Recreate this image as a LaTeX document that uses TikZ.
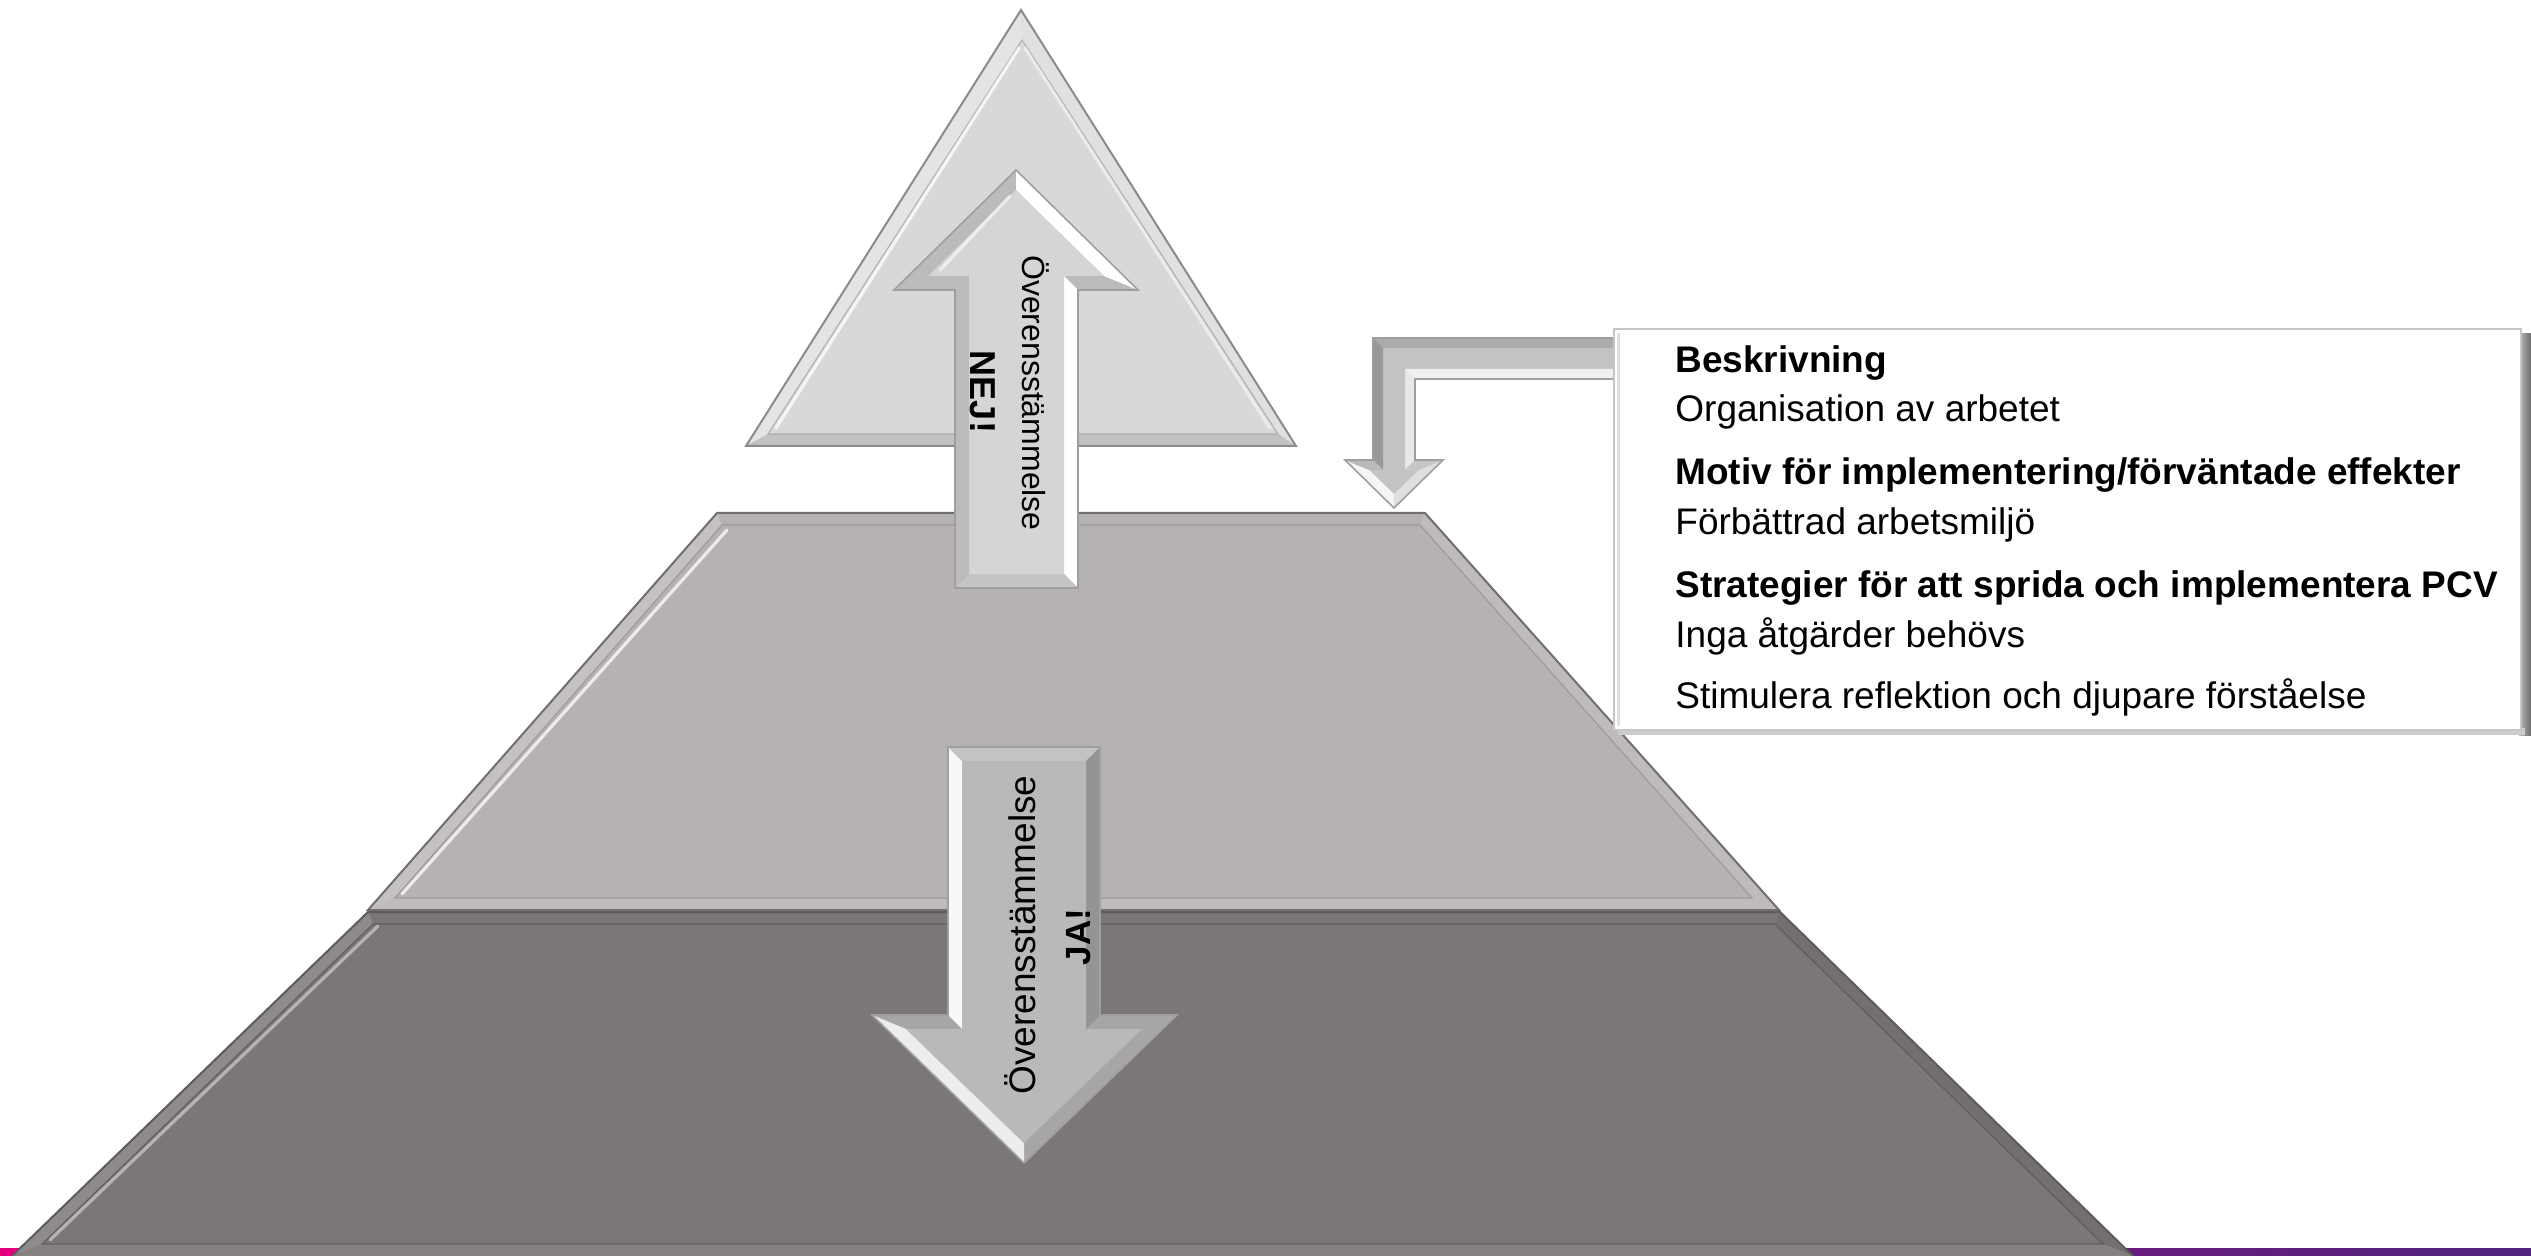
\documentclass[tikz,border=0pt]{standalone}
\usepackage{fontspec}
\setmainfont{Liberation Sans}
\usetikzlibrary{calc}
\definecolor{topGrey}{HTML}{D9D8D9}
\definecolor{midGrey}{HTML}{B6B2B1}
\definecolor{botGrey}{HTML}{7B7776}
\definecolor{edgeGrey}{HTML}{8C8A8A}
\definecolor{darkEdge}{HTML}{5E5B5A}
\definecolor{upFace}{HTML}{D6D5D6}
\definecolor{downFace}{HTML}{BAB8B8}
\definecolor{bendFace}{HTML}{C3C3C3}
\definecolor{barPink}{HTML}{E4007C}
\definecolor{barPurple}{HTML}{50237F}
\tikzset{
    pyrEdge/.style={draw=#1, line width=1pt, line join=miter},
    innerEdge/.style={draw=#1, line width=0.6pt, opacity=0.7},
    glowLine/.style={draw=white, line width=1.6pt, opacity=0.75, line cap=round},
    arrowEdge/.style={draw=gray!75, line width=0.8pt, line join=miter},
    descline/.style={anchor=base west, inner sep=0pt, font=\fontsize{18.5}{22}\selectfont},
    desctitle/.style={descline, font=\fontsize{18.5}{22}\selectfont\bfseries},
    arrowtext/.style={anchor=base, inner sep=0pt}
}
\begin{document}
\begin{tikzpicture}[x=0.5pt,y=-0.5pt]
    \useasboundingbox (0,0) rectangle (2531,1256);
    % colour bar
    \shade[left color=barPink, right color=barPurple] (0,1248) rectangle (2531,1256);

    % bottom layer
    \fill[botGrey] (368,912) -- (1780,912) -- (2133,1256) -- (12,1256) -- cycle;
    \fill[botGrey!85!white] (368,912) -- (373,924) -- (42,1244) -- (12,1256) -- cycle;
    \fill[botGrey!93!black] (1780,912) -- (2133,1256) -- (2103,1244) -- (1775,924) -- cycle;
    \fill[botGrey!93!white] (42,1244) -- (2103,1244) -- (2133,1256) -- (12,1256) -- cycle;
    \draw[innerEdge=botGrey!70!black] (373,924) -- (1775,924) -- (2103,1244) -- (42,1244) -- cycle;
    \draw[glowLine, opacity=0.45] (378,926) -- (50,1240);
    \draw[pyrEdge=darkEdge] (12,1256) -- (368,912) -- (1780,912) -- (2133,1256);

    % middle layer
    \fill[midGrey] (717,513) -- (1425,513) -- (1779,910) -- (368,910) -- cycle;
    \fill[midGrey!80!white] (717,513) -- (722,525) -- (395,898) -- (368,910) -- cycle;
    \fill[midGrey!88!white] (1425,513) -- (1779,910) -- (1752,898) -- (1420,525) -- cycle;
    \fill[midGrey!88!white] (395,898) -- (1752,898) -- (1779,910) -- (368,910) -- cycle;
    \draw[innerEdge=midGrey!80!black] (722,525) -- (1420,525) -- (1752,898) -- (395,898) -- cycle;
    \draw[glowLine] (727,530) -- (402,894);
    \draw[pyrEdge=edgeGrey!80!black] (368,910) -- (717,513) -- (1425,513) -- (1779,910) -- cycle;

    % top layer
    \fill[topGrey] (1021,10) -- (746,446) -- (1296,446) -- cycle;
    \fill[topGrey!70!white] (1021,10) -- (746,446) -- (768,434) -- (1022,40) -- cycle;
    \fill[topGrey!80!white] (1021,10) -- (1296,446) -- (1278,434) -- (1022,40) -- cycle;
    \fill[topGrey!90!black] (746,446) -- (1296,446) -- (1278,434) -- (768,434) -- cycle;
    \draw[innerEdge=topGrey!75!black] (1022,40) -- (768,434) -- (1278,434) -- cycle;
    \draw[glowLine] (1019,48) -- (776,428);
    \draw[glowLine, opacity=0.5] (1025,48) -- (1270,428);
    \draw[pyrEdge=edgeGrey] (1021,10) -- (746,446) -- (1296,446) -- cycle;

    % arrow up: NEJ
    \fill[upFace!88!black] (1016,170) -- (1138,290) -- (1078,290) -- (1078,588)
        -- (955,588) -- (955,290) -- (894,290) -- cycle;
    \fill[white] (1016,170) -- (1138,290) -- (1104,276) -- (1016,190) -- cycle;
    \fill[white] (1078,290) -- (1078,588) -- (1064,574) -- (1064,276) -- cycle;
    \fill[upFace!92!black] (1078,588) -- (955,588) -- (969,574) -- (1064,574) -- cycle;
    \fill[upFace] (1016,190) -- (1104,276) -- (1064,276) -- (1064,574)
        -- (969,574) -- (969,276) -- (928,276) -- cycle;
    \draw[glowLine, opacity=0.6] (1010,196) -- (940,270);
    \draw[arrowEdge] (1016,170) -- (1138,290) -- (1078,290) -- (1078,588)
        -- (955,588) -- (955,290) -- (894,290) -- cycle;

    % arrow down: JA
    \fill[downFace!90!black] (948,747) -- (1100,747) -- (1100,1015) -- (1177,1015)
        -- (1024,1163) -- (872,1015) -- (948,1015) -- cycle;
    \fill[white!90!downFace] (948,747) -- (948,1015) -- (962,1029) -- (962,761) -- cycle;
    \fill[white!75!downFace] (872,1015) -- (1024,1163) -- (1024,1143) -- (906,1029) -- cycle;
    \fill[downFace!85!white] (948,747) -- (1100,747) -- (1086,761) -- (962,761) -- cycle;
    \fill[downFace!80!black] (1100,747) -- (1100,1015) -- (1086,1029) -- (1086,761) -- cycle;
    \fill[downFace] (962,761) -- (1086,761) -- (1086,1029) -- (1142,1029)
        -- (1024,1143) -- (906,1029) -- (962,1029) -- cycle;
    \draw[arrowEdge] (948,747) -- (1100,747) -- (1100,1015) -- (1177,1015)
        -- (1024,1163) -- (872,1015) -- (948,1015) -- cycle;

    % bent arrow from the box
    \fill[bendFace] (1613,338) -- (1373,338) -- (1373,460) -- (1345,460) -- (1394,508)
        -- (1443,460) -- (1415,460) -- (1415,379) -- (1613,379) -- cycle;
    \fill[gray!65] (1613,338) -- (1373,338) -- (1383,348) -- (1613,348) -- cycle;
    \fill[gray!80] (1373,338) -- (1373,460) -- (1383,470) -- (1383,348) -- cycle;
    \fill[gray!12] (1415,379) -- (1613,379) -- (1613,369) -- (1405,369) -- cycle;
    \fill[gray!18] (1415,379) -- (1415,460) -- (1405,470) -- (1405,369) -- cycle;
    \fill[gray!8] (1345,460) -- (1394,508) -- (1394,494) -- (1369,470) -- cycle;
    \fill[gray!25] (1443,460) -- (1394,508) -- (1394,494) -- (1419,470) -- cycle;
    \fill[gray!55] (1345,460) -- (1373,460) -- (1383,470) -- (1369,470) -- cycle;
    \fill[gray!45] (1415,460) -- (1443,460) -- (1419,470) -- (1405,470) -- cycle;
    \draw[arrowEdge] (1613,338) -- (1373,338) -- (1373,460) -- (1345,460) -- (1394,508)
        -- (1443,460) -- (1415,460) -- (1415,379) -- (1613,379);

    % description box
    \shade[left color=gray!55, right color=gray!85!black] (2519,334) rectangle (2531,735);
    \fill[gray!40] (1618,728) rectangle (2525,735);
    \node[draw=gray!45, line width=0.8pt, fill=white, inner sep=0pt,
          minimum width=453.5pt, minimum height=200.5pt] (desc) at (2067.5,529.5) {};
    \draw[gray!25, line width=1.5pt] ($(desc.north west)+(5,5)$) -- ($(desc.south west)+(5,-5)$);

    \node[desctitle] (beskr) at (1675,373) {Beskrivning};
    \node[descline] (org) at (1675,422) {Organisation av arbetet};
    \node[desctitle] (motiv) at (1675,485) {Motiv för implementering/förväntade effekter};
    \node[descline] (forb) at (1675,535) {Förbättrad arbetsmiljö};
    \node[desctitle] (strat) at (1675,597) {Strategier för att sprida och implementera PCV};
    \node[descline] (inga) at (1675,647) {Inga åtgärder behövs};
    \node[descline] (stim) at (1675,708) {Stimulera reflektion och djupare förståelse};

    % arrow labels
    \node[arrowtext, rotate=-90, font=\fontsize{16}{19}\selectfont] (overUp) at (1022,393) {Överensstämmelse};
    \node[arrowtext, rotate=-90, font=\fontsize{18}{21}\selectfont\bfseries] (nej) at (970,392) {NEJ!};
    \node[arrowtext, rotate=90, font=\fontsize{18.5}{22}\selectfont] (overDown) at (1035,935) {Överensstämmelse};
    \node[arrowtext, rotate=90, font=\fontsize{17.5}{21}\selectfont\bfseries] (ja) at (1090,937) {JA!};
\end{tikzpicture}
\end{document}
